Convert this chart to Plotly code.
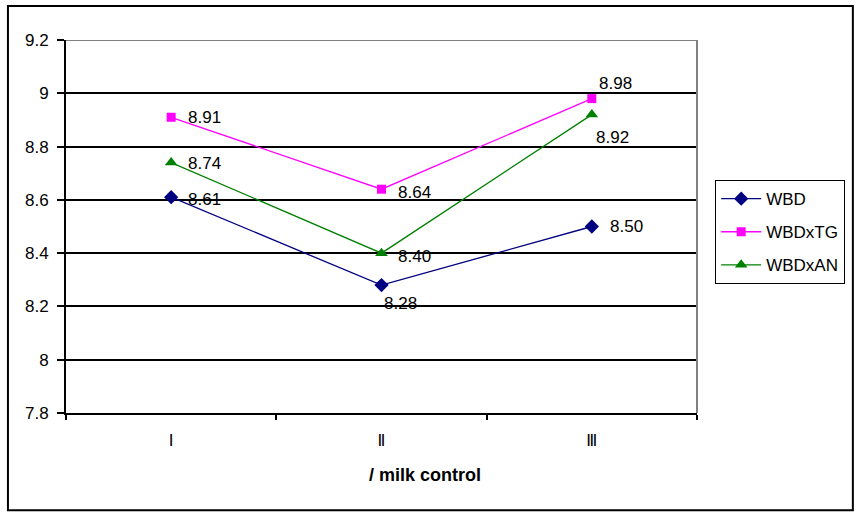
import plotly.graph_objects as go

categories = ["Ⅰ", "Ⅱ", "Ⅲ"]
wbd = [8.61, 8.28, 8.50]
wbdxtg = [8.91, 8.64, 8.98]
wbdxan = [8.74, 8.40, 8.92]
y_ticks = [7.8, 8, 8.2, 8.4, 8.6, 8.8, 9, 9.2]
y_ticktext = ["7.8", "8", "8.2", "8.4", "8.6", "8.8", "9", "9.2"]

FONT = "Liberation Sans, Arial, sans-serif"

# label placement (pixel shifts), per series and point
label_shift = {
    "WBD": [(15, -2), (0, -18), (16, 0)],
    "WBDxTG": [(15, 0), (14, -3), (5, 15)],
    "WBDxAN": [(15, -1), (14, -3), (2, -23)],
}

fig = go.Figure()
series = [
    ("WBD", wbd, "#000080", "diamond", 11),
    ("WBDxTG", wbdxtg, "#FF00FF", "square", 9),
    ("WBDxAN", wbdxan, "#008000", "triangle-up", 11),
]
annotations = []
for name, vals, col, sym, sz in series:
    fig.add_trace(go.Scatter(
        x=categories, y=vals, name=name, mode="lines+markers",
        legendgroup=name,
        line=dict(color=col, width=1.3),
        marker=dict(symbol=sym, size=sz, color=col),
        cliponaxis=False,
    ))
    for c, v, (dx, dy) in zip(categories, vals, label_shift[name]):
        annotations.append(dict(
            x=c, y=v, xref="x", yref="y", text="%.2f" % v, showarrow=False,
            xanchor="left", yanchor="middle", xshift=dx, yshift=dy,
            font=dict(family=FONT, size=17, color="black"),
        ))

annotations.append(dict(
    x=0.569, y=-0.166, xref="paper", yref="paper", text="<b>/ milk control</b>",
    showarrow=False, xanchor="center", yanchor="middle",
    font=dict(family=FONT, size=18, color="black"),
))

fig.update_layout(
    width=860, height=512,
    margin=dict(l=66, r=163, t=40, b=99),
    paper_bgcolor="white", plot_bgcolor="white",
    font=dict(family=FONT, size=17, color="black"),
    xaxis=dict(
        type="category", range=[-0.5, 2.5], tickson="boundaries",
        ticks="outside", ticklen=5, tickcolor="black", tickwidth=1.5,
        showline=True, linecolor="black", linewidth=2, showgrid=False,
        tickfont=dict(family="DejaVu Sans, sans-serif", size=16),
        ticklabelstandoff=12,
        zeroline=False,
    ),
    yaxis=dict(
        range=[7.8, 9.2], tickvals=y_ticks, ticktext=y_ticktext,
        ticks="outside", ticklen=7, tickcolor="black", tickwidth=1.5,
        showline=True, linecolor="black", linewidth=2,
        showgrid=True, gridcolor="black", gridwidth=1.7,
        tickfont=dict(size=17), ticklabelstandoff=5, zeroline=False,
    ),
    legend=dict(
        x=1.0285, y=0.625, xanchor="left", yanchor="top",
        bordercolor="black", borderwidth=1.2, bgcolor="white",
        font=dict(size=17), itemwidth=40, tracegroupgap=8,
    ),
    annotations=annotations,
    shapes=[
        dict(type="line", xref="paper", yref="y", x0=0, x1=1, y0=9.2, y1=9.2,
             line=dict(color="#808080", width=2)),
        dict(type="line", xref="paper", yref="paper", x0=1, x1=1, y0=0, y1=1,
             line=dict(color="#808080", width=2)),
        dict(type="rect", xref="paper", yref="paper", x0=-0.092, x1=1.247,
             y0=-0.261, y1=1.091, line=dict(color="black", width=2), layer="below"),
    ],
)

fig.write_html("out.html")
